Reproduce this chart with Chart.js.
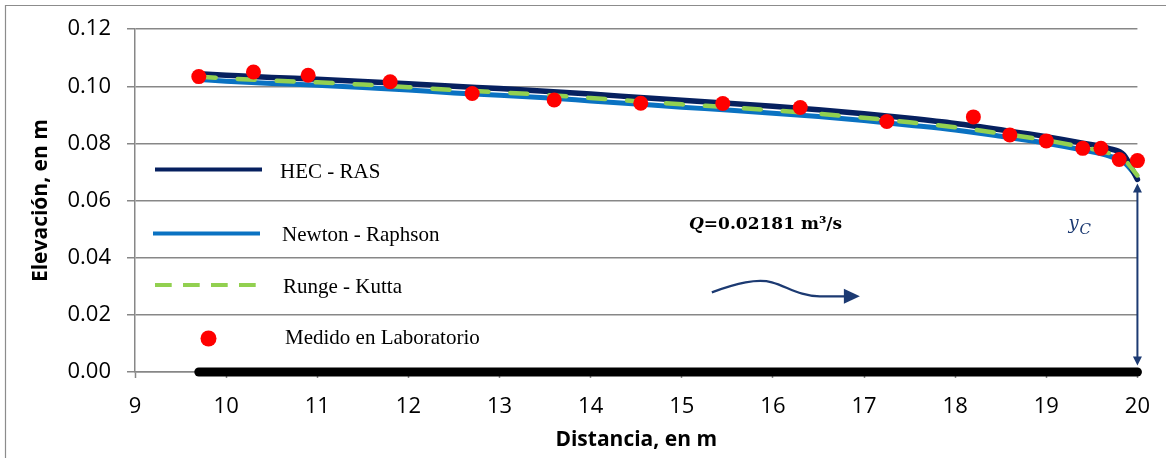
<!DOCTYPE html>
<html>
<head>
<meta charset="utf-8">
<script src="https://cdn.jsdelivr.net/npm/chart.js@4"></script>
<style>
  html, body { margin: 0; padding: 0; background: #fff; }
  #wrap { width: 1166px; height: 458px; position: relative; }
</style>
</head>
<body>
<div id="wrap"><canvas id="c" width="1166" height="458"></canvas></div>
<script>
// ---- data ----
const modelX   = [9.7, 10, 10.5, 11, 11.5, 12, 12.5, 13, 13.5, 14, 14.5, 15, 15.5, 16, 16.5, 17, 17.5, 18, 18.5, 19, 19.4, 19.7, 19.85, 20];
const hecRas   = [0.1044, 0.1039, 0.1031, 0.1025, 0.1017, 0.1009, 0.1000, 0.0992, 0.0983, 0.0973, 0.0962, 0.0951, 0.0941, 0.0930, 0.0918, 0.0904, 0.0888, 0.0870, 0.0848, 0.0824, 0.0801, 0.0781, 0.0760, 0.0674];
const runge    = [0.1034, 0.1028, 0.1020, 0.1014, 0.1006, 0.0997, 0.0987, 0.0979, 0.0970, 0.0959, 0.0948, 0.0937, 0.0927, 0.0916, 0.0904, 0.0890, 0.0874, 0.0857, 0.0835, 0.0811, 0.0787, 0.0765, 0.0745, 0.0688];
const newton   = [0.1024, 0.1018, 0.1010, 0.1004, 0.0996, 0.0987, 0.0977, 0.0969, 0.0960, 0.0949, 0.0938, 0.0927, 0.0917, 0.0906, 0.0894, 0.0880, 0.0864, 0.0847, 0.0825, 0.0801, 0.0777, 0.0755, 0.0735, 0.0681];
const labX     = [9.7, 10.3, 10.9, 11.8, 12.7, 13.6, 14.55, 15.45, 16.3, 17.25, 18.2, 18.6, 19.0, 19.4, 19.6, 19.8, 20.0];
const labY     = [0.1034, 0.1050, 0.1039, 0.1016, 0.0975, 0.0952, 0.0941, 0.0940, 0.0926, 0.0877, 0.0893, 0.0830, 0.0809, 0.0783, 0.0783, 0.0744, 0.0740];
const bedX     = [9.7, 20];
const bedY     = [0, 0];
const seriesNames = ['HEC - RAS', 'Newton - Raphson', 'Runge - Kutta', 'Medido en Laboratorio'];
const xTickMin = 9, xTickMax = 20, xTickStep = 1;
const yTickMin = 0, yTickMax = 0.12, yTickStep = 0.02;
const flowLabel = '=0.02181 m³/s';

const NAVY = '#06205f', BLUE = '#0a72c2', GREEN = '#92d050', RED = '#ff0000', ANN = '#1c3a72', GRID = '#878787';

const pts = (xs, ys) => xs.map((x, i) => ({ x, y: ys[i] }));

const frame = {
  id: 'frame',
  beforeDraw(chart) {
    const ctx = chart.ctx;
    ctx.save();
    ctx.strokeStyle = '#8c8c8c';
    ctx.lineWidth = 1.2;
    ctx.beginPath();
    ctx.moveTo(5.5, 470); ctx.lineTo(5.5, 5.5); ctx.lineTo(1200, 5.5);
    ctx.stroke();
    ctx.restore();
  }
};

const annotations = {
  id: 'annotations',
  afterDatasetsDraw(chart) {
    const { ctx, scales: { x, y } } = chart;
    ctx.save();
    // Flow label
    const qx = x.getPixelForValue(15.08), qy = y.getPixelForValue(0.050);
    ctx.fillStyle = '#000';
    ctx.textBaseline = 'alphabetic';
    ctx.font = 'italic bold 17px "DejaVu Serif"';
    ctx.fillText('Q', qx, qy);
    const qw = ctx.measureText('Q').width;
    ctx.font = 'bold 17px "DejaVu Serif"';
    ctx.fillText(flowLabel, qx + qw, qy);
    // y_C label
    const yx = x.getPixelForValue(19.243), yy = y.getPixelForValue(0.050);
    ctx.fillStyle = ANN;
    ctx.font = 'italic 18px "DejaVu Serif"';
    ctx.fillText('y', yx, yy);
    const yw = ctx.measureText('y').width;
    ctx.font = 'italic 15px "DejaVu Serif"';
    ctx.fillText('C', yx + yw + 1, yy + 5);
    // wavy flow arrow
    const ax = x.getPixelForValue(15.33), ay = y.getPixelForValue(0.0279);
    ctx.strokeStyle = ANN; ctx.fillStyle = ANN;
    ctx.lineWidth = 2.3;
    ctx.beginPath();
    ctx.moveTo(ax, ay);
    ctx.bezierCurveTo(ax + 25, ay - 9, ax + 45, ay - 14, ax + 60, ay - 10);
    ctx.bezierCurveTo(ax + 75, ay - 6, ax + 88, ay + 4, ax + 108, ay + 4);
    ctx.lineTo(ax + 134, ay + 4);
    ctx.stroke();
    ctx.beginPath();
    ctx.moveTo(ax + 132, ay - 3.5);
    ctx.lineTo(ax + 148, ay + 4);
    ctx.lineTo(ax + 132, ay + 11.5);
    ctx.closePath(); ctx.fill();
    // critical depth double arrow
    const vx = x.getPixelForValue(20);
    const vTop = y.getPixelForValue(0.0660), vBot = y.getPixelForValue(0.00226);
    ctx.lineWidth = 2;
    ctx.beginPath();
    ctx.moveTo(vx, vTop + 6); ctx.lineTo(vx, vBot - 6);
    ctx.stroke();
    ctx.beginPath();
    ctx.moveTo(vx, vTop); ctx.lineTo(vx - 4.5, vTop + 9); ctx.lineTo(vx + 4.5, vTop + 9); ctx.closePath(); ctx.fill();
    ctx.beginPath();
    ctx.moveTo(vx, vBot); ctx.lineTo(vx - 4.5, vBot - 9); ctx.lineTo(vx + 4.5, vBot - 9); ctx.closePath(); ctx.fill();
    ctx.restore();
  }
};

const legendPlugin = {
  id: 'customLegend',
  afterDraw(chart) {
    const ctx = chart.ctx;
    ctx.save();
    ctx.font = '21px "Liberation Serif"';
    ctx.fillStyle = '#000';
    ctx.textBaseline = 'middle';
    // HEC - RAS
    ctx.lineWidth = 4; ctx.strokeStyle = NAVY; ctx.lineCap = 'butt';
    ctx.beginPath(); ctx.moveTo(155, 169.5); ctx.lineTo(262, 169.5); ctx.stroke();
    ctx.fillText(seriesNames[0], 280, 172);
    // Newton - Raphson
    ctx.strokeStyle = BLUE;
    ctx.beginPath(); ctx.moveTo(153, 233.5); ctx.lineTo(260, 233.5); ctx.stroke();
    ctx.fillText(seriesNames[1], 282, 235);
    // Runge - Kutta
    ctx.strokeStyle = GREEN; ctx.setLineDash([16.7, 11.3]);
    ctx.beginPath(); ctx.moveTo(155, 285); ctx.lineTo(256, 285); ctx.stroke();
    ctx.setLineDash([]);
    ctx.fillText(seriesNames[2], 283, 287);
    // Medido
    ctx.fillStyle = RED;
    ctx.beginPath(); ctx.arc(208.5, 338.5, 8, 0, Math.PI * 2); ctx.fill();
    ctx.fillStyle = '#000';
    ctx.fillText(seriesNames[3], 285, 338);
    ctx.restore();
  }
};

new Chart(document.getElementById('c'), {
  type: 'line',
  data: {
    datasets: [
      { label: seriesNames[3], data: pts(labX, labY), showLine: false, pointRadius: 7.5, pointHoverRadius: 7.5,
        backgroundColor: RED, borderColor: RED, pointBorderWidth: 0, order: 0, clip: false },
      { label: seriesNames[2], data: pts(modelX, runge), borderColor: GREEN, borderWidth: 4.5, borderDash: [17, 22],
        borderCapStyle: 'round', pointRadius: 0, cubicInterpolationMode: 'monotone', order: 1, clip: false },
      { label: seriesNames[1], data: pts(modelX, newton), borderColor: BLUE, borderWidth: 5,
        pointRadius: 0, cubicInterpolationMode: 'monotone', order: 3, clip: false },
      { label: seriesNames[0], data: pts(modelX, hecRas), borderColor: NAVY, borderWidth: 5.5, borderCapStyle: 'round',
        pointRadius: 0, cubicInterpolationMode: 'monotone', order: 2, clip: false },
      { label: 'bed', data: pts(bedX, bedY), borderColor: '#000', borderWidth: 9, borderCapStyle: 'round',
        pointRadius: 0, order: 4, clip: false }
    ]
  },
  options: {
    responsive: false,
    animation: false,
    events: [],
    layout: { padding: { left: 0, top: 28, right: 28, bottom: 0 } },
    plugins: { legend: { display: false }, tooltip: { enabled: false } },
    scales: {
      x: {
        type: 'linear', min: xTickMin, max: xTickMax,
        ticks: { stepSize: xTickStep, color: '#000', font: { family: 'Open Sans', size: 22 }, padding: 16, maxRotation: 0, autoSkip: false },
        grid: { drawOnChartArea: false, tickLength: 6, tickColor: GRID, tickWidth: 1.5 },
        border: { display: true, color: GRID, width: 1.5 },
        title: { display: true, text: 'Distancia, en m', color: '#000', font: { family: 'Open Sans', size: 21, weight: 'bold' }, padding: { top: 0, bottom: 5 } },
        afterFit(s) { s.height = 86; }
      },
      y: {
        min: yTickMin, max: yTickMax,
        ticks: { stepSize: yTickStep, color: '#000', font: { family: 'Open Sans', size: 22 }, padding: 16,
                 callback: v => Number(v).toFixed(2) },
        grid: { color: GRID, lineWidth: 1.5, tickLength: 8, tickColor: GRID },
        border: { display: true, color: GRID, width: 1.5 },
        title: { display: true, text: 'Elevación, en m', color: '#000', font: { family: 'Open Sans', size: 21, weight: 'bold' }, padding: { top: 28, bottom: 0 } },
        afterFit(s) { s.width = 135; }
      }
    }
  },
  plugins: [frame, annotations, legendPlugin]
});
</script>
</body>
</html>
